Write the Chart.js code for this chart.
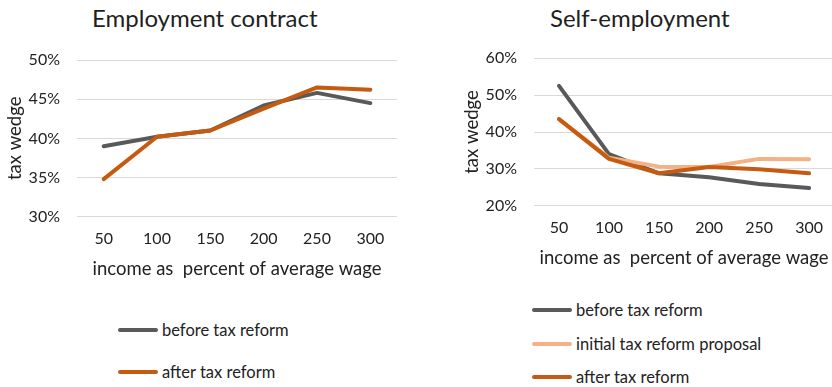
<!DOCTYPE html>
<html>
<head>
<meta charset="utf-8">
<script src="https://cdn.jsdelivr.net/npm/chart.js@4"></script>
<style>
  html, body { margin: 0; padding: 0; background: #fff; overflow: hidden; }
  body { width: 832px; height: 387px; position: relative; font-family: Lato, "Noto Sans", sans-serif; color: #222; }
  .title { position: absolute; font-size: 24px; white-space: nowrap; color: #1f1f1f; }
  .legend { position: absolute; font-size: 16.5px; color: #222; }
  .legend .item { position: absolute; left: 0; white-space: nowrap; display: flex; align-items: center; height: 20px; }
  .legend .swatch { width: 40px; height: 4px; border-radius: 2px; margin-right: 4px; }
  canvas { position: absolute; }
</style>
</head>
<body>

<div class="title" style="left:92px; top:3px;">Employment contract</div>
<div class="title" style="left:550px; top:3px;">Self-employment</div>

<div style="position:absolute; left:0; top:0; width:420px; height:290px;">
  <canvas id="employment"></canvas>
</div>
<div style="position:absolute; left:440px; top:0; width:396px; height:279px;">
  <canvas id="selfEmployment"></canvas>
</div>

<div class="legend" id="legendEmployment" style="left:118px; top:0;"></div>
<div class="legend" id="legendSelf" style="left:532px; top:0;"></div>

<script>
// income level, percent of average wage
const incomeLevels = ['50', '100', '150', '200', '250', '300'];

// tax wedge (%) for an employment contract
const employmentBefore = [39.0, 40.2, 41.0, 44.2, 45.8, 44.5];
const employmentAfter  = [34.8, 40.2, 41.0, 43.8, 46.5, 46.2];

// tax wedge (%) for self-employment
const selfBefore   = [52.5, 34.0, 28.8, 27.7, 25.9, 24.8];
const selfProposal = [43.5, 33.0, 30.6, 30.5, 32.7, 32.6];
const selfAfter    = [43.5, 32.7, 28.8, 30.5, 29.9, 28.8];

const GREY = '#595959';
const ORANGE = '#C55A11';
const PEACH = '#F4B183';
const FONT = 'Lato, "Noto Sans", sans-serif';

function series(label, data, color, order) {
  return {
    label, data, order,
    borderColor: color, backgroundColor: color,
    borderWidth: 4, pointRadius: 0, pointHoverRadius: 0,
    tension: 0, borderCapStyle: 'round', borderJoinStyle: 'round'
  };
}

function makeChart(id, datasets, yMin, yMax, step, geom) {
  return new Chart(document.getElementById(id), {
    type: 'line',
    data: { labels: incomeLevels, datasets },
    options: {
      responsive: true,
      maintainAspectRatio: false,
      animation: false,
      events: [],
      layout: { padding: { top: geom.top, left: 0, right: geom.right, bottom: 0 } },
      plugins: { legend: { display: false }, title: { display: false }, tooltip: { enabled: false } },
      scales: {
        x: {
          offset: true,
          grid: { display: false, drawTicks: false },
          border: { display: false },
          ticks: { padding: 13, color: '#222', font: { family: FONT, size: 16 }, maxRotation: 0 },
          title: { display: true, text: 'income as  percent of average wage', color: '#222',
                   font: { family: FONT, size: 18.5 }, padding: { top: 4, bottom: 10 } },
          afterFit: (s) => { s.height = geom.xHeight; }
        },
        y: {
          min: yMin, max: yMax,
          grid: { color: '#d9d9d9', lineWidth: 1, drawTicks: false },
          border: { display: false },
          ticks: { stepSize: step, padding: 17, color: '#222', font: { family: FONT, size: 16 },
                   callback: (v) => v + '%' },
          title: { display: true, text: 'tax wedge', color: '#222',
                   font: { family: FONT, size: 18.5 }, padding: { top: geom.yTitlePad, bottom: 0 } },
          afterFit: (s) => { s.width = geom.yWidth; }
        }
      }
    }
  });
}

makeChart('employment', [
  series('before tax reform', employmentBefore, GREY, 2),
  series('after tax reform', employmentAfter, ORANGE, 0)
], 30, 50, 5, { top: 60, right: 23, xHeight: 73.3, yWidth: 77, yTitlePad: 4 });

makeChart('selfEmployment', [
  series('before tax reform', selfBefore, GREY, 2),
  series('initial tax reform proposal', selfProposal, PEACH, 1),
  series('after tax reform', selfAfter, ORANGE, 0)
], 20, 60, 10, { top: 58.3, right: 0, xHeight: 73.3, yWidth: 94, yTitlePad: 21 });

// legends stacked vertically beneath each chart
function buildLegend(el, items, rows) {
  items.forEach((it, i) => {
    const row = document.createElement('div');
    row.className = 'item';
    row.style.top = (rows[i] - 10) + 'px';
    const sw = document.createElement('div');
    sw.className = 'swatch';
    sw.style.background = it.color;
    const tx = document.createElement('span');
    tx.textContent = it.label;
    row.appendChild(sw); row.appendChild(tx);
    el.appendChild(row);
  });
}
buildLegend(document.getElementById('legendEmployment'), [
  { label: 'before tax reform', color: GREY },
  { label: 'after tax reform', color: ORANGE }
], [330, 372]);
buildLegend(document.getElementById('legendSelf'), [
  { label: 'before tax reform', color: GREY },
  { label: 'initial tax reform proposal', color: PEACH },
  { label: 'after tax reform', color: ORANGE }
], [310, 344, 377]);
</script>
</body>
</html>
